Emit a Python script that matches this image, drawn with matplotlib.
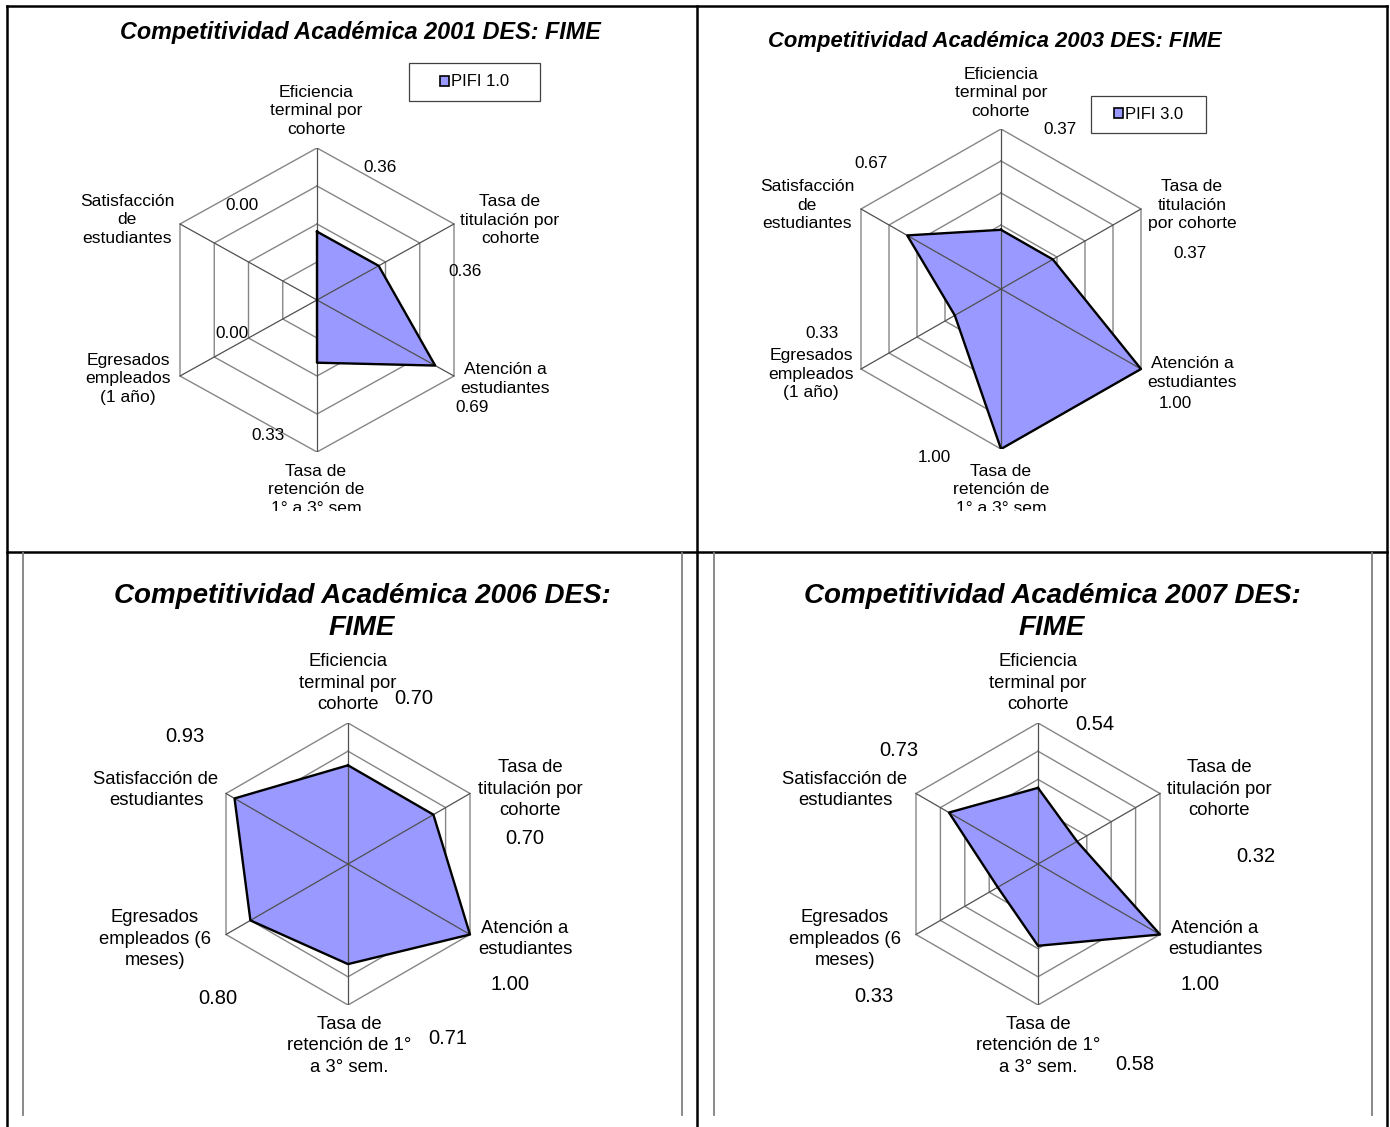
import numpy as np
import matplotlib
matplotlib.use("Agg")
import matplotlib.pyplot as plt
from matplotlib.patches import Patch, Rectangle
from matplotlib.lines import Line2D
from matplotlib.transforms import Bbox, TransformedBbox

plt.rcParams['font.family'] = ['Liberation Sans', 'DejaVu Sans']

# ---- datos ----
titulos = ["Competitividad Académica 2001 DES: FIME",
           "Competitividad Académica 2003 DES: FIME",
           "Competitividad Académica 2006 DES:\nFIME",
           "Competitividad Académica 2007 DES:\nFIME"]

categorias_2001 = ["Eficiencia\nterminal por\ncohorte", "Tasa de\ntitulación por\ncohorte",
                   "Atención a\nestudiantes", "Tasa de\nretención de\n1° a 3° sem",
                   "Egresados\nempleados\n(1 año)", "Satisfacción\nde\nestudiantes"]
categorias_2003 = ["Eficiencia\nterminal por\ncohorte", "Tasa de\ntitulación\npor cohorte",
                   "Atención a\nestudiantes", "Tasa de\nretención de\n1° a 3° sem",
                   "Egresados\nempleados\n(1 año)", "Satisfacción\nde\nestudiantes"]
categorias_2006 = ["Eficiencia\nterminal por\ncohorte", "Tasa de\ntitulación por\ncohorte",
                   "Atención a\nestudiantes", "Tasa de\nretención de 1°\na 3° sem.",
                   "Egresados\nempleados (6\nmeses)", "Satisfacción de\nestudiantes"]

valores_2001 = [0.36, 0.36, 0.69, 0.33, 0.00, 0.00]
valores_2003 = [0.37, 0.37, 1.00, 1.00, 0.33, 0.67]
valores_2006 = [0.70, 0.70, 1.00, 0.71, 0.80, 0.93]
valores_2007 = [0.54, 0.32, 1.00, 0.58, 0.33, 0.73]

series = ["PIFI 1.0", "PIFI 3.0", None, None]
maximos = [0.8, 1.0, 1.0, 1.0]
paso = 0.2

# ---- layout (pixeles de la imagen) ----
ANCHO, ALTO = 1390, 1127
layout = [
    dict(centro=(317, 300), R=152, W=137, titulo=(360, 33), tam_titulo=16.8,
         tam_cat=12.6, tam_val=12.3, area=(8, 8, 697, 511), leyenda=(409, 63, 540, 101),
         cats=[(316, 111), (510, 220), (505, 379), (316, 490), (128, 379), (127, 220)],
         vals=[(380, 167), (465, 271), (472, 408), (268, 435), (232, 333), (242, 206)]),
    dict(centro=(1001, 289), R=160, W=140, titulo=(995, 42), tam_titulo=15.8,
         tam_cat=12.6, tam_val=12.3, area=(697, 8, 1387, 511), leyenda=(1091, 96, 1206, 133),
         cats=[(1001, 93), (1192, 205), (1192, 373), (1001, 490), (811, 374), (807, 205)],
         vals=[(1060, 129), (1190, 253), (1175, 403), (934, 457), (822, 333), (871, 163)]),
    dict(centro=(348, 864), R=141, W=122, titulo=(362, 612), tam_titulo=20,
         tam_cat=13.3, tam_val=14.5, area=(23, 552, 682, 1115), leyenda=None,
         cats=[(348, 683), (530, 789), (525, 939), (349, 1046), (155, 939), (156, 790)],
         vals=[(414, 699), (525, 838), (510, 984), (448, 1038), (218, 998), (185, 737)]),
    dict(centro=(1038, 864), R=141, W=122, titulo=(1052, 612), tam_titulo=20,
         tam_cat=13.3, tam_val=14.5, area=(714, 552, 1372, 1115), leyenda=None,
         cats=[(1038, 683), (1219, 789), (1215, 939), (1038, 1046), (845, 939), (845, 790)],
         vals=[(1095, 724), (1256, 857), (1200, 984), (1135, 1065), (874, 997), (899, 751)]),
]

todas_categorias = [categorias_2001, categorias_2003, categorias_2006, categorias_2006]
todos_valores = [valores_2001, valores_2003, valores_2006, valores_2007]

RELLENO = '#9999FF'
GRIS = '#868686'


def fx(x):
    return x / ANCHO


def fy(y):
    return 1 - y / ALTO


fig = plt.figure(figsize=(ANCHO / 100, ALTO / 100), dpi=100)

angulos = np.deg2rad(np.arange(6) * 60)
s60 = np.sin(np.deg2rad(60))

for i in range(4):
    lay = layout[i]
    cx, cy = lay['centro']
    R, W = lay['R'], lay['W']
    mitad_x = W / s60
    ax = fig.add_axes([fx(cx - mitad_x), fy(cy + R), 2 * mitad_x / ANCHO, 2 * R / ALTO])
    ax.set_xlim(-1, 1)
    ax.set_ylim(-1, 1)
    ax.axis('off')

    maximo = maximos[i]
    niveles = np.arange(paso, maximo + 1e-9, paso)
    ang_c = np.append(angulos, angulos[0])
    for nivel in niveles:
        r = nivel / maximo
        ax.plot(r * np.sin(ang_c), r * np.cos(ang_c), color=GRIS, lw=1.0, zorder=1)

    vals = np.array(todos_valores[i]) / maximo
    vals_c = np.append(vals, vals[0])
    ax.fill(vals_c * np.sin(ang_c), vals_c * np.cos(ang_c), color=RELLENO, zorder=2, lw=0)
    for a in angulos:
        ax.plot([0, np.sin(a)], [0, np.cos(a)], color='#505050', lw=0.9, zorder=3)
    ax.plot(vals_c * np.sin(ang_c), vals_c * np.cos(ang_c), color='black', lw=1.7, zorder=4)

    x0, y0, x1, y1 = lay['area']
    recorte = TransformedBbox(Bbox.from_extents(fx(x0), fy(y1), fx(x1), fy(y0)), fig.transFigure)

    tx, ty = lay['titulo']
    fig.text(fx(tx), fy(ty), titulos[i], ha='center', va='center', fontsize=lay['tam_titulo'],
             fontweight='bold', fontstyle='italic', linespacing=1.3)

    for k in range(6):
        px, py = lay['cats'][k]
        t = fig.text(fx(px), fy(py), todas_categorias[i][k], ha='center', va='center',
                     fontsize=lay['tam_cat'], linespacing=1.32, multialignment='center')
        t.set_clip_box(recorte)
        t.set_clip_on(True)
        px, py = lay['vals'][k]
        fig.text(fx(px), fy(py), f"{todos_valores[i][k]:.2f}", ha='center', va='center',
                 fontsize=lay['tam_val'])

    if lay['leyenda'] is not None:
        lx0, ly0, lx1, ly1 = lay['leyenda']
        fig.add_artist(Rectangle((fx(lx0), fy(ly1)), fx(lx1) - fx(lx0), fy(ly0) - fy(ly1),
                                 transform=fig.transFigure, facecolor='white',
                                 edgecolor='#404040', lw=0.9))
        manejador = Patch(facecolor=RELLENO, edgecolor='black', lw=1.2)
        fig.legend([manejador], [series[i]], loc='center',
                   bbox_to_anchor=(fx((lx0 + lx1) / 2), fy((ly0 + ly1) / 2)),
                   frameon=False, fontsize=12, handlelength=0.55, handleheight=0.55,
                   handletextpad=0.1, borderpad=0, borderaxespad=0)

# ---- bordes de la tabla ----
negro = dict(color='black', lw=1.8, transform=fig.transFigure)
fig.add_artist(Line2D([fx(7), fx(1387)], [fy(6), fy(6)], **negro))
fig.add_artist(Line2D([fx(7), fx(1387)], [fy(552), fy(552)], **negro))
for xb in [7, 697, 1387]:
    fig.add_artist(Line2D([fx(xb), fx(xb)], [fy(6), fy(1127)], **negro))
for xg in [23, 682, 714, 1372]:
    fig.add_artist(Line2D([fx(xg), fx(xg)], [fy(553), fy(1115)], color='#808080', lw=1.3,
                          transform=fig.transFigure))

fig.savefig('out.png', dpi=100)
